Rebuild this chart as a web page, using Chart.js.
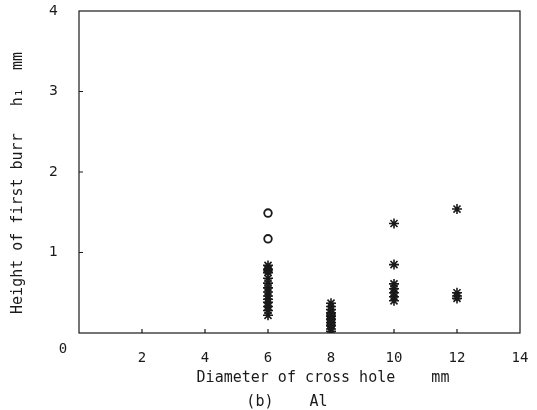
<!DOCTYPE html>
<html>
<head>
<meta charset="utf-8">
<script src="https://cdn.jsdelivr.net/npm/chart.js@4.4.0/dist/chart.umd.min.js"></script>
<style>
  html, body { margin: 0; padding: 0; background: #fff; }
  canvas { display: block; }
</style>
</head>
<body>
<canvas id="burrChart" width="537" height="410"></canvas>
<script>
// values (height of first burr h1, mm)
const starH6 = [0.84, 0.79, 0.75, 0.68, 0.62, 0.56, 0.51, 0.46, 0.42, 0.38, 0.33, 0.28, 0.22];
const starH8 = [0.37, 0.33, 0.29, 0.25, 0.21, 0.17, 0.13, 0.09, 0.05, 0.02];
const starH10 = [1.36, 0.85, 0.61, 0.55, 0.50, 0.45, 0.40];
const starH12 = [1.54, 0.50, 0.46, 0.43];
const circleH6 = [1.49, 1.17, 0.78];
const circleH8 = [0.23, 0.17, 0.10];

const xTicks = [2, 4, 6, 8, 10, 12, 14];
const yTicks = [1, 2, 3, 4];

const INK = "#1a1a1a";
const MONO = "'DejaVu Sans Mono', 'Liberation Mono', monospace";

function toPoints(x, hs) {
  return hs.map((h) => ({ x, y: h }));
}

const starPoints = [
  ...toPoints(6, starH6),
  ...toPoints(8, starH8),
  ...toPoints(10, starH10),
  ...toPoints(12, starH12)
];
const circlePoints = [...toPoints(6, circleH6), ...toPoints(8, circleH8)];

// frame, inner tick marks and loose texts
const decorPlugin = {
  id: "decor",
  afterDraw(chart) {
    const { ctx, chartArea: a, scales } = chart;
    ctx.save();
    ctx.strokeStyle = INK;
    ctx.lineWidth = 1.2;
    ctx.strokeRect(a.left, a.top, a.right - a.left, a.bottom - a.top);

    ctx.beginPath();
    xTicks.slice(0, -1).forEach((v) => {
      const px = scales.x.getPixelForValue(v);
      ctx.moveTo(px, a.bottom);
      ctx.lineTo(px, a.bottom - 4);
    });
    yTicks.slice(0, -1).forEach((v) => {
      const py = scales.y.getPixelForValue(v);
      ctx.moveTo(a.left, py);
      ctx.lineTo(a.left + 4, py);
    });
    ctx.stroke();

    ctx.fillStyle = INK;
    ctx.textAlign = "center";
    ctx.textBaseline = "middle";
    ctx.font = "14px " + MONO;
    ctx.fillText("0", 63, 349);

    ctx.font = "15px " + MONO;
    ctx.fillText("Diameter of cross hole    mm", 323, 378);
    ctx.fillText("(b)    Al", 287, 402);

    ctx.translate(18, 183);
    ctx.rotate(-Math.PI / 2);
    ctx.fillText("Height of first burr   h\u2081  mm", 0, 0);
    ctx.restore();
  }
};

new Chart(document.getElementById("burrChart"), {
  type: "scatter",
  data: {
    datasets: [
      {
        label: "asterisk",
        data: starPoints,
        pointStyle: "star",
        pointRadius: 5,
        borderColor: INK,
        borderWidth: 1.6,
        backgroundColor: INK
      },
      {
        label: "circle",
        data: circlePoints,
        pointStyle: "circle",
        pointRadius: 3.8,
        borderColor: INK,
        borderWidth: 1.8,
        backgroundColor: "rgba(0,0,0,0)"
      }
    ]
  },
  options: {
    animation: false,
    responsive: false,
    devicePixelRatio: 1,
    layout: { padding: { top: 11, right: 17, left: 0, bottom: 0 } },
    plugins: {
      legend: { display: false },
      tooltip: { enabled: false }
    },
    scales: {
      x: {
        type: "linear",
        min: 0,
        max: 14,
        afterFit: (s) => { s.height = 77; s.paddingLeft = 0; s.paddingRight = 0; },
        afterBuildTicks: (s) => { s.ticks = [0, ...xTicks].map((v) => ({ value: v })); },
        grid: { display: false },
        border: { display: false },
        ticks: {
          color: INK,
          padding: 9,
          maxRotation: 0,
          font: { family: MONO, size: 14 },
          callback: (v) => (v === 0 ? "" : String(v))
        }
      },
      y: {
        type: "linear",
        min: 0,
        max: 4,
        afterFit: (s) => { s.width = 79; s.paddingTop = 0; s.paddingBottom = 0; },
        afterBuildTicks: (s) => { s.ticks = [0, ...yTicks].map((v) => ({ value: v })); },
        grid: { display: false },
        border: { display: false },
        ticks: {
          color: INK,
          padding: 13,
          font: { family: "'DejaVu Sans', sans-serif", size: 14 },
          callback: (v) => (v === 0 ? "" : String(v))
        }
      }
    }
  },
  plugins: [decorPlugin]
});
</script>
</body>
</html>
